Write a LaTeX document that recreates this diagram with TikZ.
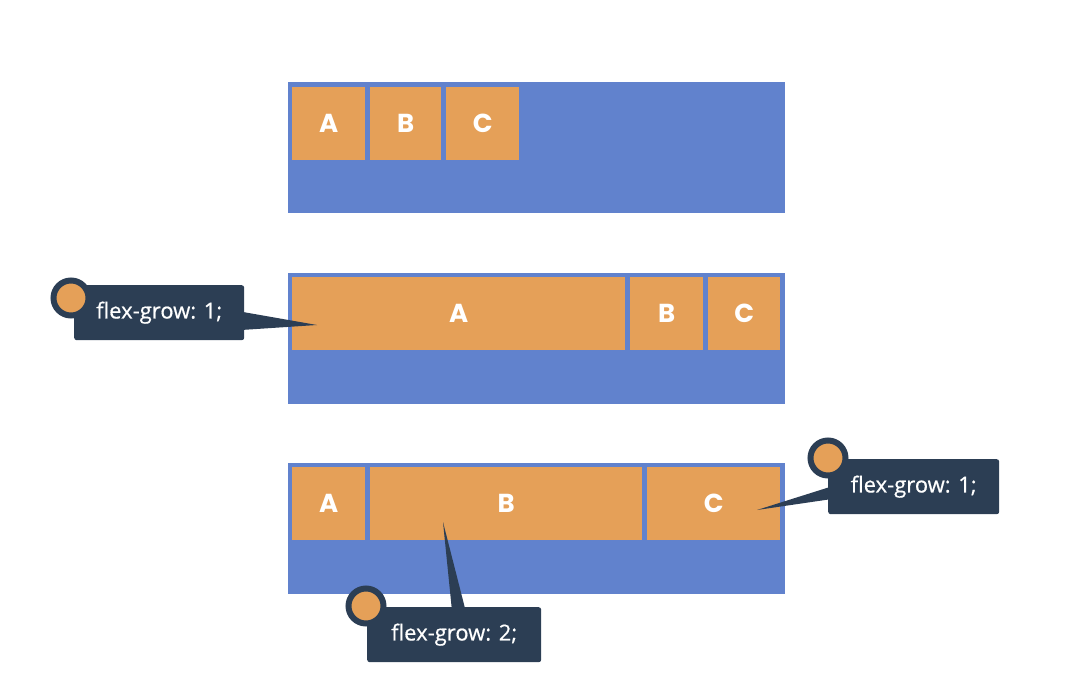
\documentclass[tikz,border=0pt]{standalone}
\usepackage{fontspec}
\setmainfont{Open Sans}[FakeBold=1.2]
\newfontfamily\calloutfont{Open Sans}[UprightFeatures={FakeBold=0.6}]
\newfontfamily\popfont{Poppins}
\usetikzlibrary{calc}
\definecolor{flexblue}{RGB}{97,130,205}
\definecolor{itemorange}{RGB}{229,160,88}
\definecolor{navy}{RGB}{44,62,84}
\tikzset{
  container/.style={rectangle, fill=flexblue, draw=none, inner sep=0pt, anchor=north west, minimum width=497pt, minimum height=131pt},
  item/.style={rectangle, fill=itemorange, draw=none, inner sep=0pt, anchor=north west, minimum height=73pt, text=white, font=\popfont\bfseries\fontsize{26}{26}\selectfont},
  callout/.style={rectangle, fill=navy, draw=none, rounded corners=2.5pt, inner sep=0pt, anchor=north west, minimum width=171pt, minimum height=55pt, text=white, font=\calloutfont\fontsize{22}{22}\selectfont},
  dot/.style={circle, fill=itemorange, draw=navy, line width=6pt, minimum size=35pt, inner sep=0pt},
  tail/.style={fill=navy, draw=none}
}
\begin{document}
\begin{tikzpicture}[x=1pt,y=-1pt]
\useasboundingbox (0,0) rectangle (1072,698);
% row 1
\node[container] (c1) at (288,82) {};
\node[item, minimum width=73pt] (a1) at (292,87) {A};
\node[item, minimum width=71pt] (b1) at (370,87) {B};
\node[item, minimum width=73pt] (cc1) at (446,87) {C};
% row 2
\node[container] (c2) at (288,273) {};
\node[item, minimum width=333pt] (a2) at (292,277) {A};
\node[item, minimum width=73pt] (b2) at (630,277) {B};
\node[item, minimum width=72pt] (cc2) at (708,277) {C};
% row 3
\node[container] (c3) at (288,463) {};
\node[item, minimum width=73pt] (a3) at (292,467) {A};
\node[item, minimum width=272pt] (b3) at (370,467) {B};
\node[item, minimum width=133pt] (cc3) at (647,467) {C};
% callout 1
\coordinate (p1) at (317,325);
\node[callout, minimum width=170pt] (t1) at (74,285) {flex-grow: 1;};
\fill[tail] (p1) -- ($(t1.east)+(-6,-1.5)$) -- ($(t1.east)+(-6,17.5)$) -- cycle;
\node[dot] (d1) at (71,298) {};
% callout 2
\coordinate (p2) at (757,510);
\node[callout] (t2) at (828,459) {flex-grow: 1;};
\fill[tail] (p2) -- ($(t2.west)+(6,-1)$) -- ($(t2.west)+(6,12)$) -- cycle;
\node[dot] (d2) at (828,458) {};
% callout 3
\coordinate (p3) at (443,522);
\node[callout, minimum width=174pt] (t3) at (367,607) {flex-grow: 2;};
\fill[tail] (p3) -- ($(t3.north)+(-2,6)$) -- ($(t3.north)+(12,6)$) -- cycle;
\node[dot] (d3) at (366,606) {};
\end{tikzpicture}
\end{document}
